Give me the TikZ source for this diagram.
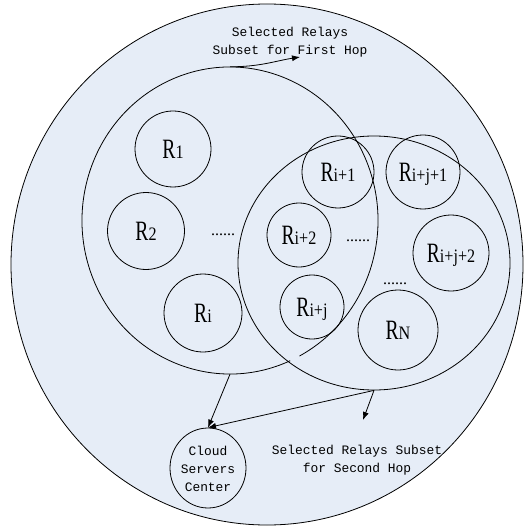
\documentclass[tikz,border=0pt]{standalone}
\usepackage{fontspec}
\usepackage{graphicx}
\setmainfont{Liberation Serif}
\newfontfamily\mfont{Liberation Mono}
\usetikzlibrary{shapes.geometric,arrows.meta,calc}
\definecolor{bgblue}{RGB}{230,237,247}
\newcommand\rl[1]{\scalebox{0.7}[1]{\fontsize{28}{28}\selectfont R}\scalebox{0.85}[1]{\fontsize{19}{19}\selectfont #1}}
\begin{document}
\begin{tikzpicture}[x=1pt,y=-1pt,
  oval/.style={ellipse, draw, inner sep=0pt, line width=0.8pt},
  relay/.style={circle, draw, inner sep=0pt, line width=0.8pt, text depth=0pt},
  arr/.style={-{Latex[length=8pt,width=6pt]}, line width=0.8pt},
  lbl/.style={font=\mfont\fontsize{12.9}{18}\selectfont, align=center, inner sep=0pt},
  dots/.style={font=\fontsize{16}{16}\selectfont, inner sep=0pt, anchor=base}]
\useasboundingbox (0,0) rectangle (524,529);
% outer area
\node[oval, fill=bgblue, minimum width=512pt, minimum height=521pt] (big) at (267,264.5) {};
% first hop subset (open curve)
\coordinate (c1) at (230,220.5);
\node[ellipse, inner sep=0pt, minimum width=296pt, minimum height=307pt] (hop1) at (c1) {};
\draw[line width=0.8pt] ($(c1)+(66:148 and 153.5)$) arc[start angle=66, end angle=422, x radius=148, y radius=153.5];
% second hop subset
\node[oval, minimum width=272pt, minimum height=254pt] (hop2) at (374,263) {};
% relays
\node[relay, minimum size=76pt] (r1) at (173,149) {\rl{1}};
\node[relay, minimum size=77pt] (r2) at (146,231) {\rl{2}};
\node[relay, minimum size=78pt] (ri) at (203,313) {\rl{i}};
\node[relay, minimum size=72pt] (ri1) at (338,172) {\rl{i+1}};
\node[relay, minimum size=74pt] (rij1) at (423,172) {\rl{i+j+1}};
\node[relay, minimum size=64pt] (ri2) at (299,235) {\rl{i+2}};
\node[relay, minimum size=76pt] (rij2) at (451,253) {\rl{i+j+2}};
\node[relay, minimum size=64pt] (rij) at (312,307) {\rl{i+j}};
\node[relay, minimum size=80pt] (rn) at (398,330) {\rl{N}};
\node[dots] (d1) at (223,235.5) {......};
\node[dots] (d2) at (358,241.5) {......};
\node[dots] (d3) at (395,284.5) {......};
% cloud
\node[oval, minimum width=76pt, minimum height=80pt] (cloud) at (208,468) {};
\node[lbl] (cloudtxt) at (208,469) {Cloud\\Servers\\Center};
% labels
\node[lbl] (fhl) at (290,42.5) {Selected Relays\\Subset for First Hop};
\node[lbl] (shl) at (357,460.5) {Selected Relays Subset\\for Second Hop};
\coordinate (fh) at (300,57);
\coordinate (sh) at (363,420);
% connectors
\draw[arr] (hop1.north) .. controls +(30,0) and +(-25,4) .. (fh);
\draw[arr] (hop1.south) -- (cloud.north);
\draw[arr] (hop2.south) -- (cloud.north);
\draw[arr] (hop2.south) -- (sh);
\end{tikzpicture}
\end{document}
